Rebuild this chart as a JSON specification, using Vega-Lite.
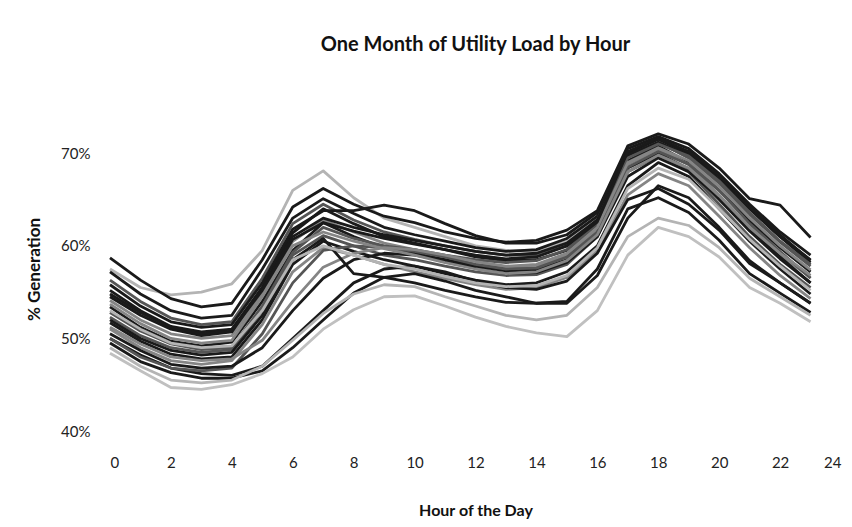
{
  "$schema": "https://vega.github.io/schema/vega-lite/v6.json",
  "width": 731,
  "height": 324,
  "autosize": {"type": "none"},
  "padding": {"left": 110, "top": 107, "right": 11, "bottom": 96},
  "background": "white",
  "config": {"view": {"stroke": null}, "font": "Lato"},
  "title": {"text": "One Month of Utility Load by Hour", "font": "Lato", "fontSize": 20, "fontWeight": "bold", "color": "#111", "offset": 52, "anchor": "middle"},
  "datasets": {"load": [
{"d":"A","h":0,"v":0.575},{"d":"A","h":1,"v":0.555},{"d":"A","h":2,"v":0.547},{"d":"A","h":3,"v":0.55},{"d":"A","h":4,"v":0.559},{"d":"A","h":5,"v":0.595},{"d":"A","h":6,"v":0.66},{"d":"A","h":7,"v":0.681},{"d":"A","h":8,"v":0.652},{"d":"A","h":9,"v":0.63},{"d":"A","h":10,"v":0.62},{"d":"A","h":11,"v":0.61},{"d":"A","h":12,"v":0.6},{"d":"A","h":13,"v":0.595},{"d":"A","h":14,"v":0.595},{"d":"A","h":15,"v":0.605},{"d":"A","h":16,"v":0.63},{"d":"A","h":17,"v":0.69},{"d":"A","h":18,"v":0.705},{"d":"A","h":19,"v":0.69},{"d":"A","h":20,"v":0.665},{"d":"A","h":21,"v":0.635},{"d":"A","h":22,"v":0.605},{"d":"A","h":23,"v":0.58},
{"d":"B","h":0,"v":0.587},{"d":"B","h":1,"v":0.563},{"d":"B","h":2,"v":0.543},{"d":"B","h":3,"v":0.534},{"d":"B","h":4,"v":0.538},{"d":"B","h":5,"v":0.585},{"d":"B","h":6,"v":0.642},{"d":"B","h":7,"v":0.662},{"d":"B","h":8,"v":0.645},{"d":"B","h":9,"v":0.632},{"d":"B","h":10,"v":0.625},{"d":"B","h":11,"v":0.615},{"d":"B","h":12,"v":0.608},{"d":"B","h":13,"v":0.604},{"d":"B","h":14,"v":0.606},{"d":"B","h":15,"v":0.617},{"d":"B","h":16,"v":0.638},{"d":"B","h":17,"v":0.708},{"d":"B","h":18,"v":0.721},{"d":"B","h":19,"v":0.71},{"d":"B","h":20,"v":0.684},{"d":"B","h":21,"v":0.651},{"d":"B","h":22,"v":0.644},{"d":"B","h":23,"v":0.609},
{"d":"C","h":0,"v":0.572},{"d":"C","h":1,"v":0.548},{"d":"C","h":2,"v":0.53},{"d":"C","h":3,"v":0.522},{"d":"C","h":4,"v":0.525},{"d":"C","h":5,"v":0.575},{"d":"C","h":6,"v":0.63},{"d":"C","h":7,"v":0.651},{"d":"C","h":8,"v":0.635},{"d":"C","h":9,"v":0.62},{"d":"C","h":10,"v":0.612},{"d":"C","h":11,"v":0.605},{"d":"C","h":12,"v":0.598},{"d":"C","h":13,"v":0.594},{"d":"C","h":14,"v":0.596},{"d":"C","h":15,"v":0.608},{"d":"C","h":16,"v":0.632},{"d":"C","h":17,"v":0.7},{"d":"C","h":18,"v":0.715},{"d":"C","h":19,"v":0.7},{"d":"C","h":20,"v":0.675},{"d":"C","h":21,"v":0.64},{"d":"C","h":22,"v":0.61},{"d":"C","h":23,"v":0.585},
{"d":"D","h":0,"v":0.563},{"d":"D","h":1,"v":0.54},{"d":"D","h":2,"v":0.522},{"d":"D","h":3,"v":0.515},{"d":"D","h":4,"v":0.518},{"d":"D","h":5,"v":0.565},{"d":"D","h":6,"v":0.624},{"d":"D","h":7,"v":0.645},{"d":"D","h":8,"v":0.628},{"d":"D","h":9,"v":0.615},{"d":"D","h":10,"v":0.607},{"d":"D","h":11,"v":0.6},{"d":"D","h":12,"v":0.594},{"d":"D","h":13,"v":0.59},{"d":"D","h":14,"v":0.59},{"d":"D","h":15,"v":0.6},{"d":"D","h":16,"v":0.628},{"d":"D","h":17,"v":0.697},{"d":"D","h":18,"v":0.712},{"d":"D","h":19,"v":0.695},{"d":"D","h":20,"v":0.668},{"d":"D","h":21,"v":0.634},{"d":"D","h":22,"v":0.604},{"d":"D","h":23,"v":0.578},
{"d":"E","h":0,"v":0.552},{"d":"E","h":1,"v":0.53},{"d":"E","h":2,"v":0.513},{"d":"E","h":3,"v":0.507},{"d":"E","h":4,"v":0.51},{"d":"E","h":5,"v":0.555},{"d":"E","h":6,"v":0.614},{"d":"E","h":7,"v":0.64},{"d":"E","h":8,"v":0.624},{"d":"E","h":9,"v":0.61},{"d":"E","h":10,"v":0.603},{"d":"E","h":11,"v":0.596},{"d":"E","h":12,"v":0.588},{"d":"E","h":13,"v":0.584},{"d":"E","h":14,"v":0.585},{"d":"E","h":15,"v":0.595},{"d":"E","h":16,"v":0.622},{"d":"E","h":17,"v":0.692},{"d":"E","h":18,"v":0.708},{"d":"E","h":19,"v":0.69},{"d":"E","h":20,"v":0.66},{"d":"E","h":21,"v":0.627},{"d":"E","h":22,"v":0.598},{"d":"E","h":23,"v":0.572},
{"d":"F","h":0,"v":0.541},{"d":"F","h":1,"v":0.52},{"d":"F","h":2,"v":0.505},{"d":"F","h":3,"v":0.5},{"d":"F","h":4,"v":0.503},{"d":"F","h":5,"v":0.548},{"d":"F","h":6,"v":0.605},{"d":"F","h":7,"v":0.628},{"d":"F","h":8,"v":0.615},{"d":"F","h":9,"v":0.603},{"d":"F","h":10,"v":0.596},{"d":"F","h":11,"v":0.588},{"d":"F","h":12,"v":0.58},{"d":"F","h":13,"v":0.577},{"d":"F","h":14,"v":0.578},{"d":"F","h":15,"v":0.59},{"d":"F","h":16,"v":0.618},{"d":"F","h":17,"v":0.688},{"d":"F","h":18,"v":0.705},{"d":"F","h":19,"v":0.688},{"d":"F","h":20,"v":0.655},{"d":"F","h":21,"v":0.62},{"d":"F","h":22,"v":0.59},{"d":"F","h":23,"v":0.566},
{"d":"G","h":0,"v":0.534},{"d":"G","h":1,"v":0.512},{"d":"G","h":2,"v":0.497},{"d":"G","h":3,"v":0.492},{"d":"G","h":4,"v":0.496},{"d":"G","h":5,"v":0.54},{"d":"G","h":6,"v":0.595},{"d":"G","h":7,"v":0.625},{"d":"G","h":8,"v":0.61},{"d":"G","h":9,"v":0.598},{"d":"G","h":10,"v":0.592},{"d":"G","h":11,"v":0.585},{"d":"G","h":12,"v":0.578},{"d":"G","h":13,"v":0.573},{"d":"G","h":14,"v":0.574},{"d":"G","h":15,"v":0.585},{"d":"G","h":16,"v":0.614},{"d":"G","h":17,"v":0.684},{"d":"G","h":18,"v":0.7},{"d":"G","h":19,"v":0.683},{"d":"G","h":20,"v":0.65},{"d":"G","h":21,"v":0.616},{"d":"G","h":22,"v":0.586},{"d":"G","h":23,"v":0.56},
{"d":"H","h":0,"v":0.523},{"d":"H","h":1,"v":0.503},{"d":"H","h":2,"v":0.49},{"d":"H","h":3,"v":0.485},{"d":"H","h":4,"v":0.488},{"d":"H","h":5,"v":0.53},{"d":"H","h":6,"v":0.59},{"d":"H","h":7,"v":0.611},{"d":"H","h":8,"v":0.6},{"d":"H","h":9,"v":0.59},{"d":"H","h":10,"v":0.585},{"d":"H","h":11,"v":0.578},{"d":"H","h":12,"v":0.572},{"d":"H","h":13,"v":0.568},{"d":"H","h":14,"v":0.569},{"d":"H","h":15,"v":0.58},{"d":"H","h":16,"v":0.61},{"d":"H","h":17,"v":0.68},{"d":"H","h":18,"v":0.697},{"d":"H","h":19,"v":0.68},{"d":"H","h":20,"v":0.645},{"d":"H","h":21,"v":0.61},{"d":"H","h":22,"v":0.58},{"d":"H","h":23,"v":0.555},
{"d":"I","h":0,"v":0.517},{"d":"I","h":1,"v":0.497},{"d":"I","h":2,"v":0.483},{"d":"I","h":3,"v":0.478},{"d":"I","h":4,"v":0.48},{"d":"I","h":5,"v":0.52},{"d":"I","h":6,"v":0.58},{"d":"I","h":7,"v":0.605},{"d":"I","h":8,"v":0.594},{"d":"I","h":9,"v":0.585},{"d":"I","h":10,"v":0.578},{"d":"I","h":11,"v":0.57},{"d":"I","h":12,"v":0.563},{"d":"I","h":13,"v":0.558},{"d":"I","h":14,"v":0.56},{"d":"I","h":15,"v":0.572},{"d":"I","h":16,"v":0.6},{"d":"I","h":17,"v":0.665},{"d":"I","h":18,"v":0.69},{"d":"I","h":19,"v":0.675},{"d":"I","h":20,"v":0.64},{"d":"I","h":21,"v":0.605},{"d":"I","h":22,"v":0.575},{"d":"I","h":23,"v":0.548},
{"d":"J","h":0,"v":0.51},{"d":"J","h":1,"v":0.49},{"d":"J","h":2,"v":0.476},{"d":"J","h":3,"v":0.472},{"d":"J","h":4,"v":0.476},{"d":"J","h":5,"v":0.515},{"d":"J","h":6,"v":0.572},{"d":"J","h":7,"v":0.598},{"d":"J","h":8,"v":0.59},{"d":"J","h":9,"v":0.58},{"d":"J","h":10,"v":0.572},{"d":"J","h":11,"v":0.565},{"d":"J","h":12,"v":0.558},{"d":"J","h":13,"v":0.553},{"d":"J","h":14,"v":0.555},{"d":"J","h":15,"v":0.566},{"d":"J","h":16,"v":0.595},{"d":"J","h":17,"v":0.655},{"d":"J","h":18,"v":0.678},{"d":"J","h":19,"v":0.665},{"d":"J","h":20,"v":0.632},{"d":"J","h":21,"v":0.598},{"d":"J","h":22,"v":0.568},{"d":"J","h":23,"v":0.543},
{"d":"K","h":0,"v":0.5},{"d":"K","h":1,"v":0.482},{"d":"K","h":2,"v":0.468},{"d":"K","h":3,"v":0.462},{"d":"K","h":4,"v":0.46},{"d":"K","h":5,"v":0.47},{"d":"K","h":6,"v":0.5},{"d":"K","h":7,"v":0.53},{"d":"K","h":8,"v":0.56},{"d":"K","h":9,"v":0.575},{"d":"K","h":10,"v":0.578},{"d":"K","h":11,"v":0.572},{"d":"K","h":12,"v":0.562},{"d":"K","h":13,"v":0.555},{"d":"K","h":14,"v":0.553},{"d":"K","h":15,"v":0.562},{"d":"K","h":16,"v":0.592},{"d":"K","h":17,"v":0.65},{"d":"K","h":18,"v":0.662},{"d":"K","h":19,"v":0.645},{"d":"K","h":20,"v":0.617},{"d":"K","h":21,"v":0.581},{"d":"K","h":22,"v":0.56},{"d":"K","h":23,"v":0.538},
{"d":"L","h":0,"v":0.495},{"d":"L","h":1,"v":0.475},{"d":"L","h":2,"v":0.463},{"d":"L","h":3,"v":0.457},{"d":"L","h":4,"v":0.457},{"d":"L","h":5,"v":0.465},{"d":"L","h":6,"v":0.49},{"d":"L","h":7,"v":0.52},{"d":"L","h":8,"v":0.549},{"d":"L","h":9,"v":0.566},{"d":"L","h":10,"v":0.57},{"d":"L","h":11,"v":0.562},{"d":"L","h":12,"v":0.552},{"d":"L","h":13,"v":0.545},{"d":"L","h":14,"v":0.538},{"d":"L","h":15,"v":0.54},{"d":"L","h":16,"v":0.575},{"d":"L","h":17,"v":0.64},{"d":"L","h":18,"v":0.652},{"d":"L","h":19,"v":0.636},{"d":"L","h":20,"v":0.606},{"d":"L","h":21,"v":0.57},{"d":"L","h":22,"v":0.549},{"d":"L","h":23,"v":0.528},
{"d":"M","h":0,"v":0.484},{"d":"M","h":1,"v":0.465},{"d":"M","h":2,"v":0.447},{"d":"M","h":3,"v":0.445},{"d":"M","h":4,"v":0.45},{"d":"M","h":5,"v":0.462},{"d":"M","h":6,"v":0.48},{"d":"M","h":7,"v":0.51},{"d":"M","h":8,"v":0.531},{"d":"M","h":9,"v":0.545},{"d":"M","h":10,"v":0.546},{"d":"M","h":11,"v":0.535},{"d":"M","h":12,"v":0.523},{"d":"M","h":13,"v":0.513},{"d":"M","h":14,"v":0.506},{"d":"M","h":15,"v":0.502},{"d":"M","h":16,"v":0.53},{"d":"M","h":17,"v":0.59},{"d":"M","h":18,"v":0.62},{"d":"M","h":19,"v":0.61},{"d":"M","h":20,"v":0.588},{"d":"M","h":21,"v":0.555},{"d":"M","h":22,"v":0.538},{"d":"M","h":23,"v":0.518},
{"d":"N","h":0,"v":0.49},{"d":"N","h":1,"v":0.47},{"d":"N","h":2,"v":0.455},{"d":"N","h":3,"v":0.452},{"d":"N","h":4,"v":0.455},{"d":"N","h":5,"v":0.47},{"d":"N","h":6,"v":0.498},{"d":"N","h":7,"v":0.527},{"d":"N","h":8,"v":0.548},{"d":"N","h":9,"v":0.558},{"d":"N","h":10,"v":0.556},{"d":"N","h":11,"v":0.545},{"d":"N","h":12,"v":0.535},{"d":"N","h":13,"v":0.525},{"d":"N","h":14,"v":0.52},{"d":"N","h":15,"v":0.525},{"d":"N","h":16,"v":0.555},{"d":"N","h":17,"v":0.61},{"d":"N","h":18,"v":0.63},{"d":"N","h":19,"v":0.622},{"d":"N","h":20,"v":0.598},{"d":"N","h":21,"v":0.565},{"d":"N","h":22,"v":0.545},{"d":"N","h":23,"v":0.525},
{"d":"O","h":0,"v":0.5},{"d":"O","h":1,"v":0.48},{"d":"O","h":2,"v":0.468},{"d":"O","h":3,"v":0.465},{"d":"O","h":4,"v":0.468},{"d":"O","h":5,"v":0.505},{"d":"O","h":6,"v":0.56},{"d":"O","h":7,"v":0.595},{"d":"O","h":8,"v":0.6},{"d":"O","h":9,"v":0.598},{"d":"O","h":10,"v":0.594},{"d":"O","h":11,"v":0.588},{"d":"O","h":12,"v":0.58},{"d":"O","h":13,"v":0.575},{"d":"O","h":14,"v":0.576},{"d":"O","h":15,"v":0.588},{"d":"O","h":16,"v":0.615},{"d":"O","h":17,"v":0.685},{"d":"O","h":18,"v":0.702},{"d":"O","h":19,"v":0.688},{"d":"O","h":20,"v":0.66},{"d":"O","h":21,"v":0.624},{"d":"O","h":22,"v":0.594},{"d":"O","h":23,"v":0.565},
{"d":"P","h":0,"v":0.545},{"d":"P","h":1,"v":0.525},{"d":"P","h":2,"v":0.51},{"d":"P","h":3,"v":0.503},{"d":"P","h":4,"v":0.507},{"d":"P","h":5,"v":0.555},{"d":"P","h":6,"v":0.61},{"d":"P","h":7,"v":0.63},{"d":"P","h":8,"v":0.62},{"d":"P","h":9,"v":0.612},{"d":"P","h":10,"v":0.606},{"d":"P","h":11,"v":0.6},{"d":"P","h":12,"v":0.594},{"d":"P","h":13,"v":0.59},{"d":"P","h":14,"v":0.592},{"d":"P","h":15,"v":0.603},{"d":"P","h":16,"v":0.628},{"d":"P","h":17,"v":0.698},{"d":"P","h":18,"v":0.712},{"d":"P","h":19,"v":0.698},{"d":"P","h":20,"v":0.672},{"d":"P","h":21,"v":0.64},{"d":"P","h":22,"v":0.61},{"d":"P","h":23,"v":0.582},
{"d":"Q","h":0,"v":0.528},{"d":"Q","h":1,"v":0.508},{"d":"Q","h":2,"v":0.494},{"d":"Q","h":3,"v":0.488},{"d":"Q","h":4,"v":0.49},{"d":"Q","h":5,"v":0.535},{"d":"Q","h":6,"v":0.593},{"d":"Q","h":7,"v":0.62},{"d":"Q","h":8,"v":0.608},{"d":"Q","h":9,"v":0.6},{"d":"Q","h":10,"v":0.596},{"d":"Q","h":11,"v":0.59},{"d":"Q","h":12,"v":0.585},{"d":"Q","h":13,"v":0.582},{"d":"Q","h":14,"v":0.584},{"d":"Q","h":15,"v":0.596},{"d":"Q","h":16,"v":0.624},{"d":"Q","h":17,"v":0.695},{"d":"Q","h":18,"v":0.71},{"d":"Q","h":19,"v":0.697},{"d":"Q","h":20,"v":0.67},{"d":"Q","h":21,"v":0.636},{"d":"Q","h":22,"v":0.605},{"d":"Q","h":23,"v":0.58},
{"d":"R","h":0,"v":0.505},{"d":"R","h":1,"v":0.487},{"d":"R","h":2,"v":0.472},{"d":"R","h":3,"v":0.468},{"d":"R","h":4,"v":0.47},{"d":"R","h":5,"v":0.49},{"d":"R","h":6,"v":0.53},{"d":"R","h":7,"v":0.565},{"d":"R","h":8,"v":0.585},{"d":"R","h":9,"v":0.592},{"d":"R","h":10,"v":0.59},{"d":"R","h":11,"v":0.584},{"d":"R","h":12,"v":0.576},{"d":"R","h":13,"v":0.57},{"d":"R","h":14,"v":0.571},{"d":"R","h":15,"v":0.582},{"d":"R","h":16,"v":0.61},{"d":"R","h":17,"v":0.675},{"d":"R","h":18,"v":0.695},{"d":"R","h":19,"v":0.68},{"d":"R","h":20,"v":0.652},{"d":"R","h":21,"v":0.617},{"d":"R","h":22,"v":0.588},{"d":"R","h":23,"v":0.56},
{"d":"S","h":0,"v":0.512},{"d":"S","h":1,"v":0.494},{"d":"S","h":2,"v":0.48},{"d":"S","h":3,"v":0.476},{"d":"S","h":4,"v":0.478},{"d":"S","h":5,"v":0.498},{"d":"S","h":6,"v":0.54},{"d":"S","h":7,"v":0.577},{"d":"S","h":8,"v":0.592},{"d":"S","h":9,"v":0.598},{"d":"S","h":10,"v":0.596},{"d":"S","h":11,"v":0.59},{"d":"S","h":12,"v":0.583},{"d":"S","h":13,"v":0.578},{"d":"S","h":14,"v":0.58},{"d":"S","h":15,"v":0.592},{"d":"S","h":16,"v":0.62},{"d":"S","h":17,"v":0.69},{"d":"S","h":18,"v":0.706},{"d":"S","h":19,"v":0.692},{"d":"S","h":20,"v":0.664},{"d":"S","h":21,"v":0.63},{"d":"S","h":22,"v":0.6},{"d":"S","h":23,"v":0.574},
{"d":"T","h":0,"v":0.558},{"d":"T","h":1,"v":0.535},{"d":"T","h":2,"v":0.518},{"d":"T","h":3,"v":0.512},{"d":"T","h":4,"v":0.515},{"d":"T","h":5,"v":0.56},{"d":"T","h":6,"v":0.618},{"d":"T","h":7,"v":0.638},{"d":"T","h":8,"v":0.638},{"d":"T","h":9,"v":0.644},{"d":"T","h":10,"v":0.638},{"d":"T","h":11,"v":0.624},{"d":"T","h":12,"v":0.611},{"d":"T","h":13,"v":0.603},{"d":"T","h":14,"v":0.603},{"d":"T","h":15,"v":0.612},{"d":"T","h":16,"v":0.636},{"d":"T","h":17,"v":0.705},{"d":"T","h":18,"v":0.718},{"d":"T","h":19,"v":0.705},{"d":"T","h":20,"v":0.678},{"d":"T","h":21,"v":0.645},{"d":"T","h":22,"v":0.615},{"d":"T","h":23,"v":0.59},
{"d":"U","h":0,"v":0.52},{"d":"U","h":1,"v":0.5},{"d":"U","h":2,"v":0.487},{"d":"U","h":3,"v":0.482},{"d":"U","h":4,"v":0.485},{"d":"U","h":5,"v":0.525},{"d":"U","h":6,"v":0.585},{"d":"U","h":7,"v":0.608},{"d":"U","h":8,"v":0.57},{"d":"U","h":9,"v":0.566},{"d":"U","h":10,"v":0.56},{"d":"U","h":11,"v":0.552},{"d":"U","h":12,"v":0.545},{"d":"U","h":13,"v":0.539},{"d":"U","h":14,"v":0.538},{"d":"U","h":15,"v":0.538},{"d":"U","h":16,"v":0.568},{"d":"U","h":17,"v":0.63},{"d":"U","h":18,"v":0.665},{"d":"U","h":19,"v":0.652},{"d":"U","h":20,"v":0.62},{"d":"U","h":21,"v":0.584},{"d":"U","h":22,"v":0.56},{"d":"U","h":23,"v":0.538},
{"d":"V","h":0,"v":0.537},{"d":"V","h":1,"v":0.516},{"d":"V","h":2,"v":0.5},{"d":"V","h":3,"v":0.495},{"d":"V","h":4,"v":0.498},{"d":"V","h":5,"v":0.545},{"d":"V","h":6,"v":0.6},{"d":"V","h":7,"v":0.615},{"d":"V","h":8,"v":0.605},{"d":"V","h":9,"v":0.597},{"d":"V","h":10,"v":0.59},{"d":"V","h":11,"v":0.582},{"d":"V","h":12,"v":0.575},{"d":"V","h":13,"v":0.57},{"d":"V","h":14,"v":0.572},{"d":"V","h":15,"v":0.584},{"d":"V","h":16,"v":0.612},{"d":"V","h":17,"v":0.68},{"d":"V","h":18,"v":0.698},{"d":"V","h":19,"v":0.684},{"d":"V","h":20,"v":0.654},{"d":"V","h":21,"v":0.62},{"d":"V","h":22,"v":0.592},{"d":"V","h":23,"v":0.568},
{"d":"W","h":0,"v":0.548},{"d":"W","h":1,"v":0.528},{"d":"W","h":2,"v":0.512},{"d":"W","h":3,"v":0.505},{"d":"W","h":4,"v":0.508},{"d":"W","h":5,"v":0.552},{"d":"W","h":6,"v":0.607},{"d":"W","h":7,"v":0.625},{"d":"W","h":8,"v":0.616},{"d":"W","h":9,"v":0.608},{"d":"W","h":10,"v":0.602},{"d":"W","h":11,"v":0.596},{"d":"W","h":12,"v":0.59},{"d":"W","h":13,"v":0.586},{"d":"W","h":14,"v":0.588},{"d":"W","h":15,"v":0.6},{"d":"W","h":16,"v":0.626},{"d":"W","h":17,"v":0.702},{"d":"W","h":18,"v":0.716},{"d":"W","h":19,"v":0.702},{"d":"W","h":20,"v":0.676},{"d":"W","h":21,"v":0.642},{"d":"W","h":22,"v":0.612},{"d":"W","h":23,"v":0.584},
{"d":"X","h":0,"v":0.53},{"d":"X","h":1,"v":0.51},{"d":"X","h":2,"v":0.495},{"d":"X","h":3,"v":0.49},{"d":"X","h":4,"v":0.492},{"d":"X","h":5,"v":0.53},{"d":"X","h":6,"v":0.585},{"d":"X","h":7,"v":0.6},{"d":"X","h":8,"v":0.59},{"d":"X","h":9,"v":0.58},{"d":"X","h":10,"v":0.575},{"d":"X","h":11,"v":0.567},{"d":"X","h":12,"v":0.56},{"d":"X","h":13,"v":0.556},{"d":"X","h":14,"v":0.557},{"d":"X","h":15,"v":0.568},{"d":"X","h":16,"v":0.598},{"d":"X","h":17,"v":0.662},{"d":"X","h":18,"v":0.684},{"d":"X","h":19,"v":0.672},{"d":"X","h":20,"v":0.64},{"d":"X","h":21,"v":0.607},{"d":"X","h":22,"v":0.578},{"d":"X","h":23,"v":0.552}
  ]},
  "data": {"name": "load"},
  "mark": {"type": "line", "strokeWidth": 2.8, "strokeJoin": "round"},
  "encoding": {
    "x": {"field": "h", "type": "quantitative", "scale": {"domain": [0, 24], "nice": false, "zero": false},
      "axis": {"title": "Hour of the Day", "values": [0,2,4,6,8,10,12,14,16,18,20,22,24], "grid": false, "domain": false, "ticks": false,
        "labelFont": "Lato", "labelFontSize": 15, "labelColor": "#222", "labelPadding": 24,
        "titleFont": "Lato", "titleFontSize": 16, "titleFontWeight": "bold", "titleColor": "#111", "titlePadding": 32}},
    "y": {"field": "v", "type": "quantitative", "scale": {"domain": [0.4, 0.75], "nice": false, "zero": false},
      "axis": {"title": "% Generation", "values": [0.4, 0.5, 0.6, 0.7], "format": ".0%", "grid": false, "domain": false, "ticks": false,
        "labelFont": "Lato", "labelFontSize": 15, "labelColor": "#222", "labelPadding": 20,
        "titleFont": "Lato", "titleFontSize": 17, "titleFontWeight": "bold", "titleColor": "#111", "titlePadding": 17}},
    "color": {"field": "d", "type": "nominal", "legend": null,
      "scale": {"domain": ["A","B","C","D","E","F","G","H","I","J","K","L","M","N","O","P","Q","R","S","T","U","V","W","X"],
        "range": ["#b4b4b4","#1a1a1a","#1a1a1a","#555555","#1a1a1a","#858585","#1a1a1a","#555555","#1a1a1a","#858585","#1a1a1a","#1a1a1a","#c0c0c0","#b4b4b4","#555555","#1a1a1a","#555555","#1a1a1a","#858585","#1a1a1a","#1a1a1a","#858585","#1a1a1a","#b4b4b4"]}}
  }
}
